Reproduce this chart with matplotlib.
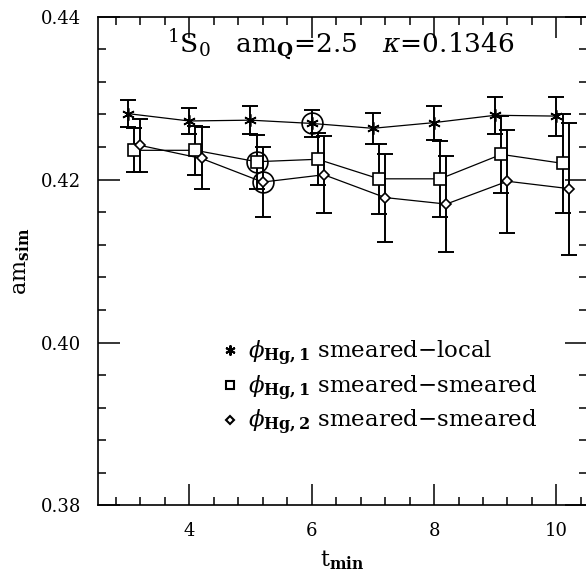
import numpy as np
import matplotlib
matplotlib.use("Agg")
import matplotlib.pyplot as plt
from matplotlib.lines import Line2D

plt.rcParams["font.family"] = ["DejaVu Serif"]
plt.rcParams["mathtext.fontset"] = "dejavuserif"

# t_min values for the three correlator fits (offset slightly for visibility)
t_local = [3, 4, 5, 6, 7, 8, 9, 10]
t_ss1 = [3.1, 4.1, 5.1, 6.1, 7.1, 8.1, 9.1, 10.1]
t_ss2 = [3.2, 4.2, 5.2, 6.2, 7.2, 8.2, 9.2, 10.2]

m_local = [0.4281, 0.4272, 0.4273, 0.4269, 0.4263, 0.4270, 0.4279, 0.4278]
e_local = [0.0017, 0.0016, 0.0017, 0.0017, 0.0019, 0.0021, 0.0023, 0.0024]

m_ss1 = [0.4236, 0.4236, 0.4222, 0.4225, 0.4201, 0.4201, 0.4231, 0.4220]
e_ss1 = [0.0027, 0.0030, 0.0033, 0.0032, 0.0043, 0.0047, 0.0047, 0.0061]

m_ss2 = [0.4242, 0.4226, 0.4197, 0.4206, 0.4178, 0.4170, 0.4198, 0.4189]
e_ss2 = [0.0033, 0.0038, 0.0043, 0.0047, 0.0054, 0.0059, 0.0063, 0.0081]

# chosen fits, marked with a circle
pick_local, pick_ss1, pick_ss2 = 3, 2, 2

labels = [r"$\phi_{\mathbf{Hg,1}}$ smeared$-$local",
          r"$\phi_{\mathbf{Hg,1}}$ smeared$-$smeared",
          r"$\phi_{\mathbf{Hg,2}}$ smeared$-$smeared"]

fig = plt.figure(figsize=(5.86, 5.76), dpi=100)
ax = fig.add_axes([0.1664, 0.1224, 0.8353, 0.8486])

star = (6, 2, 0)
series = [(t_local, m_local, e_local, star, 9, pick_local),
          (t_ss1, m_ss1, e_ss1, "s", 8, pick_ss1),
          (t_ss2, m_ss2, e_ss2, "D", 5, pick_ss2)]

handles = []
for t, m, e, mk, ms, pick in series:
    ax.errorbar(t, m, yerr=e, fmt="none", ecolor="black", elinewidth=1.4,
                capsize=6, capthick=1.4)
    ax.plot(t, m, color="black", lw=0.9, marker=mk, ms=ms, mfc="white",
            mec="black", mew=1.2)
    ax.plot(t[pick], m[pick], marker="o", ms=15, mfc="none", mec="black",
            mew=1.2, ls="none")
    handles.append(Line2D([], [], ls="none", marker=mk, ms=ms * 0.8,
                          mfc="white", mec="black", mew=1.5))

ax.legend(handles, labels, loc="upper left", bbox_to_anchor=(0.238, 0.36),
          frameon=False, handlelength=0.6, handletextpad=0.5,
          labelspacing=0.25, fontsize=16.5, borderaxespad=0)

ax.text(0.497, 0.942, r"$^{1}$S$_{0}$   am$_{\mathbf{Q}}$=2.5   $\kappa$=0.1346",
        transform=ax.transAxes, ha="center", va="center", fontsize=19)

ax.set_xlim(2.5, 10.5)
ax.set_ylim(0.38, 0.44)
ax.set_xticks([4, 6, 8, 10])
ax.set_xticks(np.arange(2.8, 10.5, 0.4), minor=True)
ax.set_yticks([0.38, 0.40, 0.42, 0.44])
ax.set_yticks(np.arange(0.384, 0.44, 0.004), minor=True)
ax.set_yticklabels(["0.38", "0.40", "0.42", "0.44"])

ax.tick_params(which="both", direction="in", top=True, right=True,
               labelsize=13, width=1.1)
ax.tick_params(axis="x", which="major", length=15, pad=12)
ax.tick_params(axis="y", which="major", length=16, pad=12)
ax.tick_params(which="minor", length=5.5)
for s in ax.spines.values():
    s.set_linewidth(1.2)

ax.set_xlabel(r"t$_{\mathbf{min}}$", fontsize=16, labelpad=6)
ax.set_ylabel(r"am$_{\mathbf{sim}}$", fontsize=16, labelpad=6)

fig.savefig("out.png", dpi=100)
